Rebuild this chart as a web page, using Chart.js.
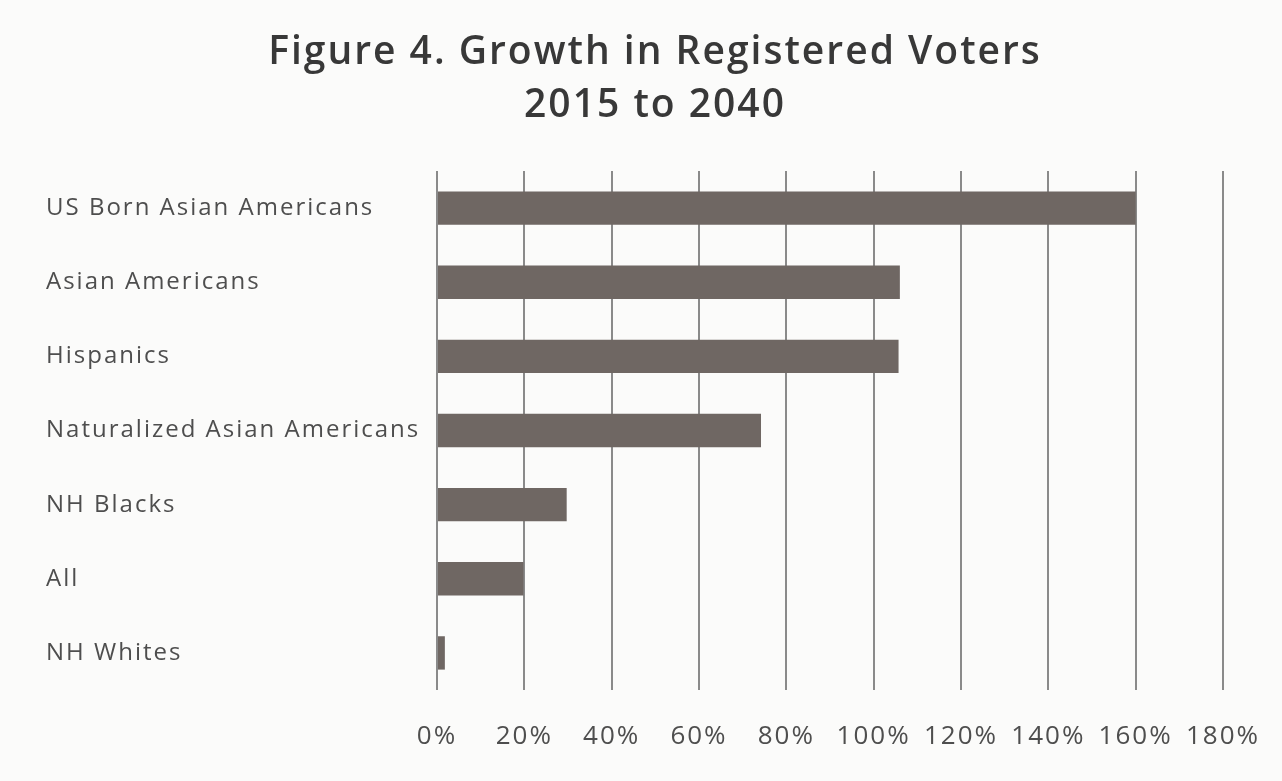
<!DOCTYPE html>
<html>
<head>
<meta charset="utf-8">
<script src="https://cdn.jsdelivr.net/npm/chart.js@4"></script>
<style>
  html, body { margin: 0; padding: 0; background: #fbfbfa; }
  #wrap { width: 1282px; height: 781px; }
</style>
</head>
<body>
<div id="wrap"><canvas id="growthChart" width="1282" height="781"></canvas></div>
<script>
// Categorias e valores (crescimento 2015-2040, em fração)
const groups = [
  "US Born Asian Americans",
  "Asian Americans",
  "Hispanics",
  "Naturalized Asian Americans",
  "NH Blacks",
  "All",
  "NH Whites"
];
const growth = [1.60, 1.06, 1.057, 0.742, 0.297, 0.198, 0.018];
const xTicks = [0, 0.2, 0.4, 0.6, 0.8, 1.0, 1.2, 1.4, 1.6, 1.8];

const textColor = "#4e4e4e";
const barColor = "#6f6763";

// o texto original é largo, então aumenta um pouco o espaçamento das letras
const spacing = {
  id: 'spacing',
  beforeLayout: chart => { chart.ctx.letterSpacing = '2px'; },
  beforeDraw: chart => { chart.ctx.letterSpacing = '2px'; }
};

const ctx = document.getElementById('growthChart').getContext('2d');

const growthChart = new Chart(ctx, {
  type: 'bar',
  data: {
    labels: groups,
    datasets: [{
      label: 'Growth',
      data: growth,
      backgroundColor: barColor,
      borderWidth: 0,
      categoryPercentage: 1,
      barPercentage: 0.45
    }]
  },
  plugins: [spacing],
  options: {
    indexAxis: 'y',
    responsive: false,
    animation: false,
    layout: { padding: { top: 26, left: 46, right: 18, bottom: 26 } },
    plugins: {
      legend: { display: false },
      tooltip: { enabled: false },
      title: {
        display: true,
        text: ['Figure 4. Growth in Registered Voters', '2015 to 2040'],
        color: '#383838',
        font: { family: 'Open Sans', size: 39, weight: '600', lineHeight: 1.36 },
        padding: { top: 0, bottom: 39 }
      }
    },
    scales: {
      x: {
        min: 0,
        max: 1.8,
        afterBuildTicks: scale => { scale.ticks = xTicks.map(v => ({ value: v })); },
        afterFit: scale => { scale.height = 65; scale.paddingRight = 59; },
        grid: { color: '#8a8a8a', lineWidth: 2, drawTicks: false },
        border: { display: false },
        ticks: {
          autoSkip: false,
          maxRotation: 0,
          color: textColor,
          padding: 31,
          font: { family: 'Open Sans', size: 26 },
          callback: v => Math.round(v * 100) + '%'
        }
      },
      y: {
        grid: { display: false },
        border: { display: false },
        afterFit: scale => { scale.width = 391; },
        ticks: {
          crossAlign: 'far',
          color: textColor,
          font: { family: 'Open Sans', size: 24 }
        }
      }
    }
  }
});
</script>
</body>
</html>
